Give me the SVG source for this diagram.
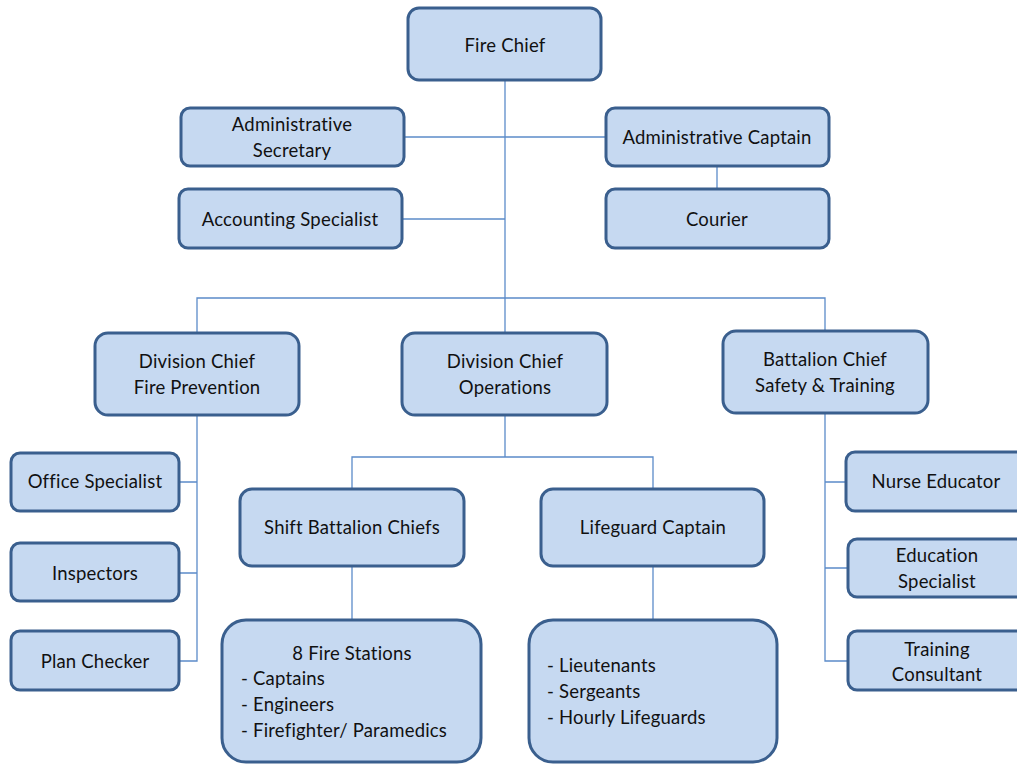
<svg xmlns="http://www.w3.org/2000/svg" width="1017" height="764" viewBox="0 0 1017 764">
<style>
.box{fill:#C6D9F1;stroke:#3A5F8E;stroke-width:3}
.t{font-family:Lato,"Open Sans","Liberation Sans",sans-serif;font-size:18.5px;letter-spacing:0.2px;fill:#111;text-anchor:middle}
.l{text-anchor:start}
.c{fill:none;stroke:#5B8BC9;stroke-width:1.3}
</style>
<rect width="1017" height="764" fill="#fff"/>
<g id="connectors" class="c">
<path d="M505 80V332"/>
<path d="M404 137H606"/>
<path d="M402 219H505"/>
<path d="M717 166V189"/>
<path d="M197 332V298H825V331"/>
<path d="M197 415V661H179M179 482H197M179 573H197"/>
<path d="M505 415V457H352V489M505 457H653V489"/>
<path d="M352 566V620"/>
<path d="M653 566V620"/>
<path d="M825 413V661H848M825 482H846M825 568H848"/>
</g>
<g id="fire-chief"><rect class="box" x="408" y="8" width="193" height="72" rx="11"/><text class="t" x="505" y="52">Fire Chief</text></g>
<g id="admin-secretary"><rect class="box" x="181" y="108" width="223" height="58" rx="9"/><text class="t" x="292" y="131">Administrative</text><text class="t" x="292" y="157">Secretary</text></g>
<g id="admin-captain"><rect class="box" x="606" y="108" width="223" height="58" rx="9"/><text class="t" x="717" y="144">Administrative Captain</text></g>
<g id="accounting"><rect class="box" x="179" y="189" width="223" height="59" rx="9"/><text class="t" x="290" y="226">Accounting Specialist</text></g>
<g id="courier"><rect class="box" x="606" y="189" width="223" height="59" rx="9"/><text class="t" x="717" y="226">Courier</text></g>
<g id="div-fire-prevention"><rect class="box" x="95" y="333" width="204" height="82" rx="13"/><text class="t" x="197" y="368">Division Chief</text><text class="t" x="197" y="394">Fire Prevention</text></g>
<g id="div-operations"><rect class="box" x="402" y="333" width="205" height="82" rx="13"/><text class="t" x="505" y="368">Division Chief</text><text class="t" x="505" y="394">Operations</text></g>
<g id="battalion-safety"><rect class="box" x="723" y="331" width="205" height="82" rx="13"/><text class="t" x="825" y="366">Battalion Chief</text><text class="t" x="825" y="392">Safety &amp; Training</text></g>
<g id="office-specialist"><rect class="box" x="11" y="453" width="168" height="58" rx="9"/><text class="t" x="95" y="488">Office Specialist</text></g>
<g id="inspectors"><rect class="box" x="11" y="543" width="168" height="58" rx="9"/><text class="t" x="95" y="580">Inspectors</text></g>
<g id="plan-checker"><rect class="box" x="11" y="631" width="168" height="59" rx="9"/><text class="t" x="95" y="668">Plan Checker</text></g>
<g id="shift-battalion"><rect class="box" x="240" y="489" width="224" height="77" rx="12"/><text class="t" x="352" y="534">Shift Battalion Chiefs</text></g>
<g id="lifeguard-captain"><rect class="box" x="541" y="489" width="223" height="77" rx="12"/><text class="t" x="653" y="534">Lifeguard Captain</text></g>
<g id="fire-stations"><rect class="box" x="222" y="620" width="259" height="142" rx="24"/><text class="t" x="352" y="660">8 Fire Stations</text><text class="t l" x="241" y="685">- Captains</text><text class="t l" x="241" y="711">- Engineers</text><text class="t l" x="241" y="737">- Firefighter/ Paramedics</text></g>
<g id="lifeguards"><rect class="box" x="529" y="620" width="248" height="142" rx="24"/><text class="t l" x="547" y="672">- Lieutenants</text><text class="t l" x="547" y="698">- Sergeants</text><text class="t l" x="547" y="724">- Hourly Lifeguards</text></g>
<g id="nurse-educator"><rect class="box" x="846" y="452" width="180" height="59" rx="9"/><text class="t" x="936" y="488">Nurse Educator</text></g>
<g id="education-specialist"><rect class="box" x="848" y="539" width="178" height="58" rx="9"/><text class="t" x="937" y="562">Education</text><text class="t" x="937" y="588">Specialist</text></g>
<g id="training-consultant"><rect class="box" x="848" y="631" width="178" height="59" rx="9"/><text class="t" x="937" y="656">Training</text><text class="t" x="937" y="681">Consultant</text></g>
</svg>
